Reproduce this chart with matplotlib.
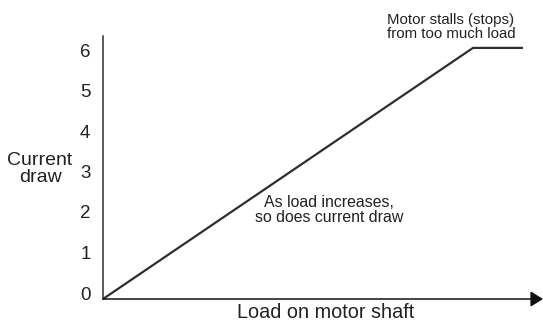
import matplotlib
matplotlib.use("Agg")
import matplotlib.pyplot as plt
from matplotlib.transforms import ScaledTranslation

plt.rcParams['font.family'] = ['Liberation Sans', 'DejaVu Sans']

# Current draw versus shaft load: linear rise, then a flat stall region
load = [0, 10, 11.35]
current = [0, 6.2, 6.2]
yticks = [0, 1, 2, 3, 4, 5, 6]
ytick_labels = ['0', '1', '2', '3', '4', '5', '6']

W, H = 543, 324
fig = plt.figure(figsize=(W / 100, H / 100), dpi=100)

def fx(px):
    return px / W

def fy(py):
    return 1 - py / H

ax = fig.add_axes([fx(103), fy(299), fx(543) - fx(103), fy(36) - fy(299)])
ax.set_xlim(0, 440 / 37)
ax.set_ylim(0, 263 / 40.5)

ink = '#2e2e2e'
ax.plot(load, current, color=ink, lw=1.6, solid_capstyle='butt', clip_on=False)

for s in ['top', 'right', 'bottom']:
    ax.spines[s].set_visible(False)
ax.spines['left'].set_color(ink)
ax.spines['left'].set_linewidth(1.1)

# x axis drawn as an arrow
ax.annotate('', xy=(440 / 37, 0), xytext=(0, 0), xycoords='data',
            arrowprops=dict(arrowstyle='-|>,head_length=0.75,head_width=0.47',
                            color='#111111', lw=1.1, shrinkA=0, shrinkB=0),
            annotation_clip=False)

ax.set_xticks([])
ax.set_yticks(yticks)
ax.set_yticklabels(ytick_labels, fontsize=13.5, color='#222222')
ax.tick_params(axis='y', length=0, pad=9)
shift = ScaledTranslation(0, 6 / 100, fig.dpi_scale_trans)
for lab in ax.get_yticklabels():
    lab.set_transform(lab.get_transform() + shift)

fig.text(fx(40), fy(169), 'Current\ndraw', ha='center', va='center',
         fontsize=14, color='#222222', linespacing=0.95)
fig.text(fx(326), fy(313), 'Load on motor shaft', ha='center', va='center',
         fontsize=14.3, color='#222222')
fig.text(fx(329), fy(210), 'As load increases,\nso does current draw', ha='center',
         va='center', fontsize=11.4, color='#222222', linespacing=1.05)
fig.text(fx(451), fy(27), 'Motor stalls (stops)\nfrom too much load', ha='center',
         va='center', fontsize=10.8, color='#222222', linespacing=1.0)

fig.savefig('out.png', dpi=100)
